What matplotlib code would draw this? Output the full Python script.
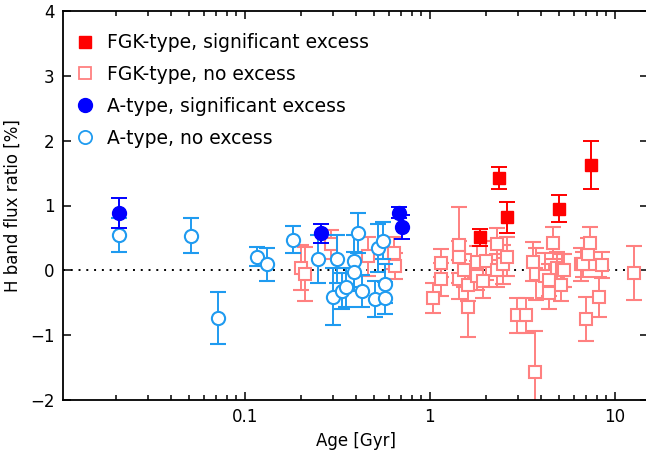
import matplotlib
matplotlib.use("Agg")
import matplotlib.pyplot as plt
from matplotlib.lines import Line2D
from matplotlib.ticker import FixedLocator, FixedFormatter, LogLocator, NullFormatter

# FGK-type, significant excess
fgk_sig_age = [1.87, 2.36, 2.60, 4.99, 7.4]
fgk_sig_val = [0.51, 1.42, 0.82, 0.95, 1.63]
fgk_sig_err = [0.13, 0.17, 0.24, 0.21, 0.37]

# FGK-type, no excess
fgk_no_age = [0.202, 0.211, 0.292, 0.465, 0.637, 0.650, 1.04, 1.15, 1.15, 1.44, 1.44,
              1.44, 1.53, 1.61, 1.61, 1.80, 1.80, 1.93, 2.0, 2.31, 2.31, 2.50, 2.60,
              2.94, 3.30, 3.60, 3.76, 3.68, 4.2, 4.39, 4.39, 4.65, 4.85, 5.1, 5.21,
              5.32, 6.55, 6.71, 6.97, 7.17, 7.32, 8.22, 8.55, 12.7]
fgk_no_val = [0.04, -0.06, 0.40, 0.22, 0.27, 0.06, -0.43, 0.11, -0.14, 0.39, 0.21,
              -0.14, 0.0, -0.22, -0.56, 0.13, -0.08, -0.17, 0.15, 0.41, 0.0, 0.09, 0.21,
              -0.69, -0.69, 0.13, -0.05, -1.57, -0.08, -0.15, -0.35, 0.42, 0.04, -0.22, 0.0,
              0.0, 0.09, 0.09, -0.75, 0.25, 0.42, -0.41, 0.08, -0.04]
fgk_no_err = [0.35, 0.42, 0.22, 0.30, 0.25, 0.20, 0.23, 0.22, 0.25, 0.58, 0.25,
              0.30, 0.25, 0.25, 0.47, 0.25, 0.22, 0.25, 0.30, 0.25, 0.25, 0.30, 0.30,
              0.27, 0.27, 0.30, 0.40, 0.64, 0.35, 0.25, 0.25, 0.25, 0.25, 0.25, 0.25,
              0.25, 0.25, 0.20, 0.34, 0.25, 0.25, 0.31, 0.20, 0.42]

# A-type, significant excess
a_sig_age = [0.021, 0.258, 0.684, 0.71]
a_sig_val = [0.88, 0.57, 0.89, 0.67]
a_sig_err = [0.23, 0.15, 0.08, 0.18]

# A-type, no excess
a_no_age = [0.021, 0.051, 0.0714, 0.116, 0.131, 0.182, 0.249, 0.30, 0.313, 0.336,
            0.351, 0.391, 0.391, 0.411, 0.432, 0.507, 0.527, 0.555, 0.571, 0.571]
a_no_val = [0.55, 0.53, -0.74, 0.21, 0.09, 0.47, 0.18, -0.41, 0.18, -0.32,
            -0.26, 0.14, -0.02, 0.57, -0.32, -0.44, 0.35, 0.46, -0.21, -0.43]
a_no_err = [0.26, 0.27, 0.40, 0.15, 0.25, 0.21, 0.37, 0.44, 0.37, 0.28,
            0.30, 0.40, 0.30, 0.31, 0.25, 0.28, 0.37, 0.28, 0.30, 0.25]

legend_labels = ["FGK-type, significant excess", "FGK-type, no excess",
                 "A-type, significant excess", "A-type, no excess"]

C_RED = "#ff0000"
C_PINK = "#ff8080"
C_BLUE = "#0000ff"
C_LBLUE = "#1f9bf0"

plt.rcParams["font.family"] = "DejaVu Sans"
fig = plt.figure(figsize=(6.46, 4.54), dpi=100)
ax = fig.add_axes([63/646, 54/454, (648 - 63)/646, 389/454])

ax.axhline(0, color="black", linestyle=(0, (1, 3)), linewidth=1.4, zorder=1)

ekw = dict(capsize=5.5, elinewidth=1.4, capthick=1.4, linestyle="none")
ax.errorbar(fgk_no_age, fgk_no_val, yerr=fgk_no_err, marker="s", ms=8.5, mfc="white",
            mec=C_PINK, mew=1.5, color=C_PINK, zorder=2, **ekw)
ax.errorbar(a_no_age, a_no_val, yerr=a_no_err, marker="o", ms=9.5, mfc="white",
            mec=C_LBLUE, mew=1.5, color=C_LBLUE, zorder=3, **ekw)
ax.errorbar(fgk_sig_age, fgk_sig_val, yerr=fgk_sig_err, marker="s", ms=8.5, mfc=C_RED,
            mec=C_RED, color=C_RED, zorder=4, **ekw)
ax.errorbar(a_sig_age, a_sig_val, yerr=a_sig_err, marker="o", ms=10, mfc=C_BLUE,
            mec=C_BLUE, color=C_BLUE, zorder=5, **ekw)

ax.set_xscale("log")
ax.set_xlim(0.0104, 15.1)
ax.set_ylim(-2, 4)
ax.xaxis.set_major_locator(FixedLocator([0.1, 1, 10]))
ax.xaxis.set_major_formatter(FixedFormatter(["0.1", "1", "10"]))
ax.xaxis.set_minor_locator(LogLocator(base=10, subs=range(2, 10)))
ax.xaxis.set_minor_formatter(NullFormatter())
ax.set_yticks([-2, -1, 0, 1, 2, 3, 4])
ax.set_yticklabels(["\u22122", "\u22121", "0", "1", "2", "3", "4"])

ax.tick_params(which="both", direction="in", top=True, right=True, labelsize=12, width=1.1)
ax.tick_params(which="major", length=6, pad=6)
ax.tick_params(which="minor", length=3.5)
for s in ax.spines.values():
    s.set_linewidth(1.3)

ax.set_xlabel("Age [Gyr]", fontsize=12, labelpad=4)
ax.set_ylabel("H band flux ratio [%]", fontsize=12, labelpad=6)

handles = [
    Line2D([], [], linestyle="none", marker="s", ms=8.5, mfc=C_RED, mec=C_RED),
    Line2D([], [], linestyle="none", marker="s", ms=8.5, mfc="white", mec=C_PINK, mew=1.3),
    Line2D([], [], linestyle="none", marker="o", ms=10, mfc=C_BLUE, mec=C_BLUE),
    Line2D([], [], linestyle="none", marker="o", ms=9.5, mfc="white", mec=C_LBLUE, mew=1.3),
]
ax.legend(handles, legend_labels, loc="upper left", frameon=False, fontsize=13.5,
          labelspacing=0.68, handletextpad=0.45, handlelength=1.5,
          bbox_to_anchor=(0.0, 0.962), borderaxespad=0.0)

fig.savefig("out.png", dpi=100)
